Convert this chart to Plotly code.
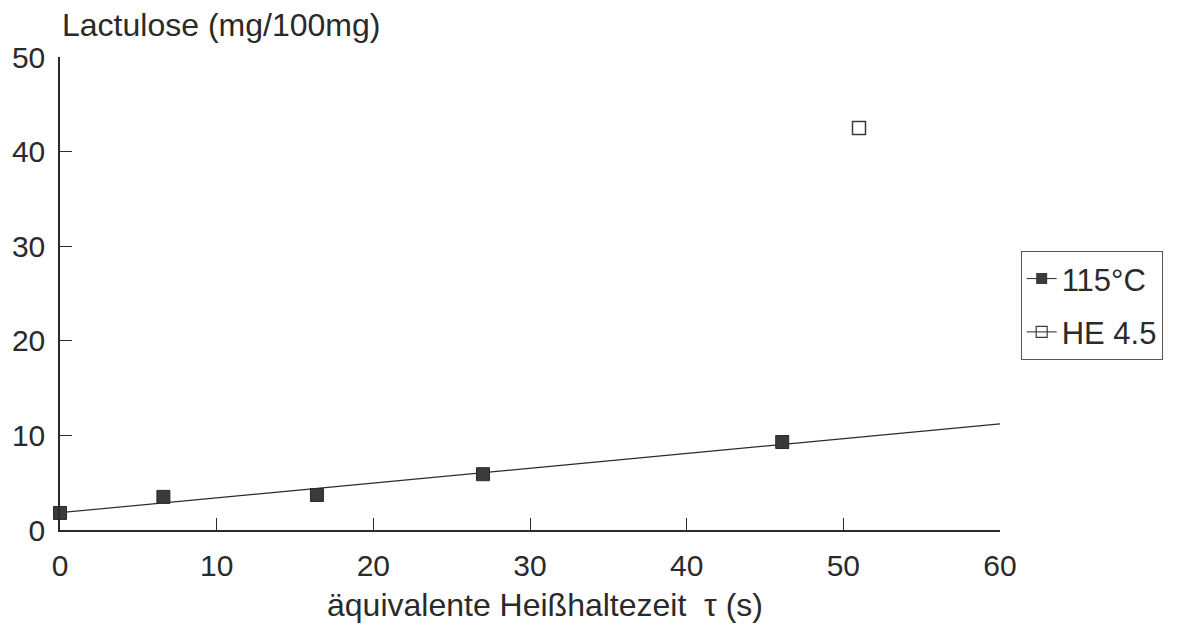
import numpy as np
import plotly.graph_objects as go

# Measured lactulose content at 115 °C vs. equivalent holding time
tau_115 = [0.0, 6.6, 16.4, 27.0, 46.1]
lact_115 = [1.8, 3.5, 3.7, 5.9, 9.3]

# Single UHT (HE 4.5) sample
tau_he = [51.0]
lact_he = [42.5]

x_ticks = [0, 10, 20, 30, 40, 50, 60]
y_ticks = [0, 10, 20, 30, 40, 50]

# Linear regression through the 115 °C series
slope, intercept = np.polyfit(tau_115, lact_115, 1)
fit_x = np.array([0.0, 60.0])
fit_y = intercept + slope * fit_x

FONT = "Liberation Sans, Arial, sans-serif"
INK = "#2a2a2a"

fig = go.Figure()

fig.add_trace(go.Scatter(
    x=fit_x, y=fit_y, mode="lines",
    line=dict(color=INK, width=1.2),
    showlegend=False, hoverinfo="skip", cliponaxis=False,
))
fig.add_trace(go.Scatter(
    x=tau_115, y=lact_115, mode="markers",
    marker=dict(symbol="square", size=13, color="#3a3a3a",
                line=dict(color="#2a2a2a", width=1)),
    showlegend=False, cliponaxis=False,
))
fig.add_trace(go.Scatter(
    x=tau_he, y=lact_he, mode="markers",
    marker=dict(symbol="square-open", size=13, color="#3a3a3a",
                line=dict(width=1.5)),
    showlegend=False, cliponaxis=False,
))

# Legend entries (line + marker sample)
fig.add_trace(go.Scatter(
    x=[None], y=[None], mode="lines+markers", name="115°C",
    legendgroup="a",
    line=dict(color=INK, width=1),
    marker=dict(symbol="square", size=11, color="#3a3a3a"),
))
fig.add_trace(go.Scatter(
    x=[None], y=[None], mode="lines+markers", name="HE 4.5",
    legendgroup="b",
    line=dict(color=INK, width=1),
    marker=dict(symbol="square-open", size=11, color="#3a3a3a",
                line=dict(width=1.2)),
))

axis_common = dict(
    showline=True, linecolor=INK, linewidth=1.5,
    ticks="inside", ticklen=12, tickwidth=1.2, tickcolor=INK,
    showgrid=False, zeroline=False, automargin=False,
    tickfont=dict(family=FONT, size=30, color=INK),
)

fig.update_xaxes(range=[0, 60], tickvals=x_ticks, ticklabelstandoff=8,
                 **axis_common)
fig.update_yaxes(range=[0, 50], tickvals=y_ticks, ticklabelstandoff=7,
                 **axis_common)

fig.add_annotation(
    text="Lactulose (mg/100mg)", xref="paper", yref="paper",
    x=0.0, y=1.068, xanchor="left", yanchor="middle", showarrow=False,
    font=dict(family=FONT, size=32, color=INK),
)
fig.add_annotation(
    text="äquivalente Heißhaltezeit  τ (s)", xref="paper", yref="paper",
    x=0.516, y=-0.159, xanchor="center", yanchor="middle", showarrow=False,
    font=dict(family=FONT, size=32, color=INK),
)

fig.update_layout(
    width=1179, height=630,
    margin=dict(l=60, r=179, t=57, b=100),
    paper_bgcolor="white", plot_bgcolor="white",
    legend=dict(
        x=1.022, y=0.59, xanchor="left", yanchor="top",
        bordercolor="#555", borderwidth=1, bgcolor="white",
        font=dict(family=FONT, size=31, color=INK),
        tracegroupgap=10, itemwidth=30,
    ),
)

fig.write_html("out.html")
